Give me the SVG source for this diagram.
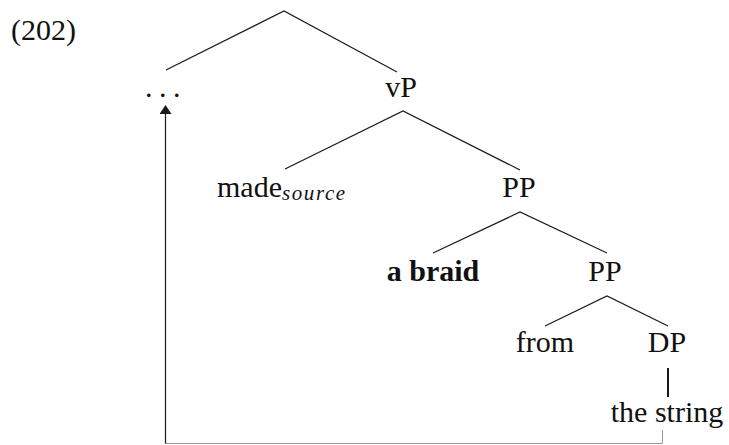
<svg xmlns="http://www.w3.org/2000/svg" width="729" height="445" viewBox="0 0 729 445">
<style>
text{font-family:"Liberation Serif","Times New Roman",serif;font-size:30px;fill:#111}
.m{text-anchor:middle}
.b{font-weight:bold}
.sub{font-size:21px;font-style:italic;letter-spacing:1.6px}
.e{stroke:#1a1a1a;stroke-width:1.2;fill:none}
</style>
<defs>
<marker id="ah" markerWidth="12" markerHeight="9" refX="6" refY="1" orient="0" markerUnits="userSpaceOnUse">
<path d="M0,9 L6,0 L12,9 Z" fill="#1a1a1a"/>
</marker>
</defs>
<text x="11" y="40">(202)</text>
<g id="connectors">
<path class="e" d="M166,70 L284,11 L397,72"/>
<path class="e" d="M285,169 L403,111 L520,170"/>
<path class="e" d="M433,253 L520,212 L607,253"/>
<path class="e" d="M545,326 L607,296 L668,326"/>
<path d="M668,368 L668,397" fill="none" stroke="#1a1a1a" stroke-width="2"/>
<path d="M662.5,430 L662.5,443.5 L165.5,443.5" fill="none" stroke="#999" stroke-width="1"/>
<path d="M165.5,443.5 L165.5,106" fill="none" stroke="#1a1a1a" stroke-width="1.2" marker-end="url(#ah)"/>
</g>
<g id="n-dots"><text x="145" y="97" style="letter-spacing:6.5px">...</text></g>
<g id="n-vP"><text x="401" y="97" class="m">vP</text></g>
<g id="n-made"><text x="217" y="197">made<tspan class="sub" dy="3">source</tspan></text></g>
<g id="n-PP1"><text x="519" y="197" class="m">PP</text></g>
<g id="n-braid"><text x="433" y="281" class="m b">a braid</text></g>
<g id="n-PP2"><text x="605" y="281" class="m">PP</text></g>
<g id="n-from"><text x="545" y="352" class="m">from</text></g>
<g id="n-DP"><text x="667" y="352" class="m">DP</text></g>
<g id="n-string"><text x="667" y="422" class="m">the string</text></g>
</svg>
